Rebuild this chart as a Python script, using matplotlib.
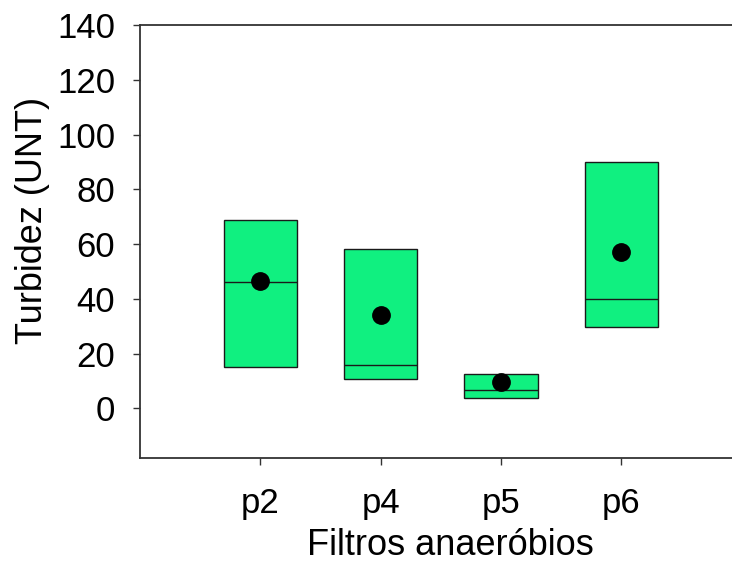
import matplotlib.pyplot as plt

plt.rcParams['font.family'] = ['Liberation Sans', 'DejaVu Sans']

filtros = ['p2', 'p4', 'p5', 'p6']
minimo = [15.0, 10.9, 3.9, 29.6]
maximo = [68.7, 58.1, 12.6, 90.0]
mediana = [46.0, 15.8, 6.7, 40.0]
media = [46.5, 34.0, 9.7, 57.2]

fig = plt.figure(figsize=(7.32, 5.66), dpi=100)
ax = fig.add_axes([0.1913, 0.1903, 0.822, 0.7655])

pos = [1, 2, 3, 4]
alturas = [mx - mn for mx, mn in zip(maximo, minimo)]
ax.bar(pos, alturas, bottom=minimo, width=0.61, color='#10f080',
       edgecolor='#1a1a1a', linewidth=1.0, zorder=2)
ax.hlines(mediana, [p - 0.305 for p in pos], [p + 0.305 for p in pos],
          color='#1a1a1a', linewidth=1.0, zorder=3)
ax.plot(pos, media, 'o', color='black', markersize=12.5, zorder=4)

ax.set_xlim(0, 5)
ax.set_ylim(-18.2, 140)
ax.set_yticks(range(0, 141, 20))
ax.set_xticks(pos)
ax.set_xticklabels(filtros)

ax.spines['right'].set_visible(False)
for s in ['left', 'bottom', 'top']:
    ax.spines[s].set_color('#333333')
    ax.spines[s].set_linewidth(1.3)
ax.tick_params(axis='y', length=5, width=1, pad=13, labelsize=25, color='#333333')
ax.tick_params(axis='x', length=5, width=1, pad=16, labelsize=25, color='#333333')

ax.set_ylabel('Turbidez (UNT)', fontsize=26)
ax.yaxis.set_label_coords(-0.15, 0.5485)
ax.set_xlabel('Filtros anaeróbios', fontsize=26)
ax.xaxis.set_label_coords(0.5166, -0.16)

fig.savefig('out.png', dpi=100)
